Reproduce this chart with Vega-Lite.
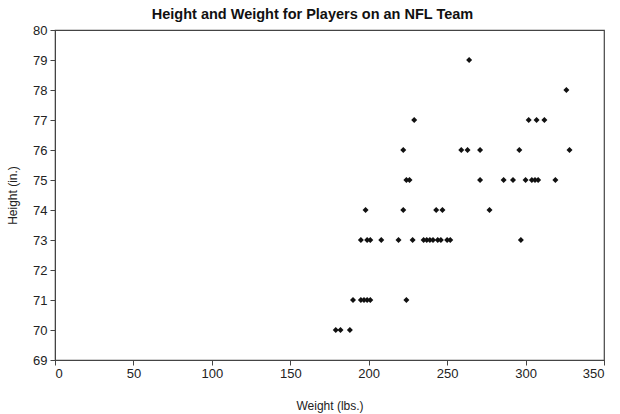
{
  "$schema": "https://vega.github.io/schema/vega-lite/v6.json",
  "autosize": "none",
  "width": 549,
  "height": 330,
  "padding": {"left": 55, "top": 30, "right": 16, "bottom": 54},
  "background": "white",
  "title": {
    "text": "Height and Weight for Players on an NFL Team",
    "font": "Liberation Sans",
    "fontSize": 14.5,
    "fontWeight": "bold",
    "color": "#111",
    "anchor": "middle",
    "offset": 0,
    "dx": -17,
    "dy": -2
  },
  "config": {
    "view": {"stroke": "#444", "strokeWidth": 1.2},
    "axis": {
      "labelFont": "Liberation Sans",
      "titleFont": "Liberation Sans",
      "labelFontSize": 13,
      "titleFontSize": 12,
      "titleFontWeight": "normal",
      "labelColor": "#222",
      "titleColor": "#222",
      "domainColor": "#444",
      "tickColor": "#444",
      "tickSize": 5,
      "grid": false
    }
  },
  "data": {
    "values": [
      {"weight": 179, "height": 70}, {"weight": 182, "height": 70}, {"weight": 188, "height": 70},
      {"weight": 190, "height": 71}, {"weight": 195, "height": 71}, {"weight": 197, "height": 71}, {"weight": 199, "height": 71}, {"weight": 201, "height": 71}, {"weight": 224, "height": 71},
      {"weight": 195, "height": 73}, {"weight": 199, "height": 73}, {"weight": 201, "height": 73}, {"weight": 208, "height": 73}, {"weight": 219, "height": 73}, {"weight": 228, "height": 73}, {"weight": 235, "height": 73}, {"weight": 237, "height": 73}, {"weight": 239, "height": 73}, {"weight": 241, "height": 73}, {"weight": 244, "height": 73}, {"weight": 246, "height": 73}, {"weight": 250, "height": 73}, {"weight": 252, "height": 73}, {"weight": 297, "height": 73},
      {"weight": 198, "height": 74}, {"weight": 222, "height": 74}, {"weight": 243, "height": 74}, {"weight": 247, "height": 74}, {"weight": 277, "height": 74},
      {"weight": 224, "height": 75}, {"weight": 226, "height": 75}, {"weight": 271, "height": 75}, {"weight": 286, "height": 75}, {"weight": 292, "height": 75}, {"weight": 300, "height": 75}, {"weight": 304, "height": 75}, {"weight": 306, "height": 75}, {"weight": 308, "height": 75}, {"weight": 319, "height": 75},
      {"weight": 222, "height": 76}, {"weight": 259, "height": 76}, {"weight": 263, "height": 76}, {"weight": 271, "height": 76}, {"weight": 296, "height": 76}, {"weight": 328, "height": 76},
      {"weight": 229, "height": 77}, {"weight": 302, "height": 77}, {"weight": 307, "height": 77}, {"weight": 312, "height": 77},
      {"weight": 326, "height": 78},
      {"weight": 264, "height": 79}
    ]
  },
  "mark": {"type": "point", "shape": "diamond", "filled": true, "color": "#111", "size": 36, "opacity": 1},
  "encoding": {
    "x": {
      "field": "weight", "type": "quantitative",
      "scale": {"domain": [0, 350], "nice": false, "zero": false},
      "axis": {"title": "Weight (lbs.)", "values": [0, 50, 100, 150, 200, 250, 300, 350], "labelPadding": 2, "titleX": 274.5, "titleY": 45, "titleBaseline": "middle"}
    },
    "y": {
      "field": "height", "type": "quantitative",
      "scale": {"domain": [69, 80], "nice": false, "zero": false},
      "axis": {"title": "Height (in.)", "values": [69, 70, 71, 72, 73, 74, 75, 76, 77, 78, 79, 80], "labelPadding": 3, "titleX": -43, "titleY": 165, "titleBaseline": "middle", "titleAlign": "center"}
    }
  }
}
